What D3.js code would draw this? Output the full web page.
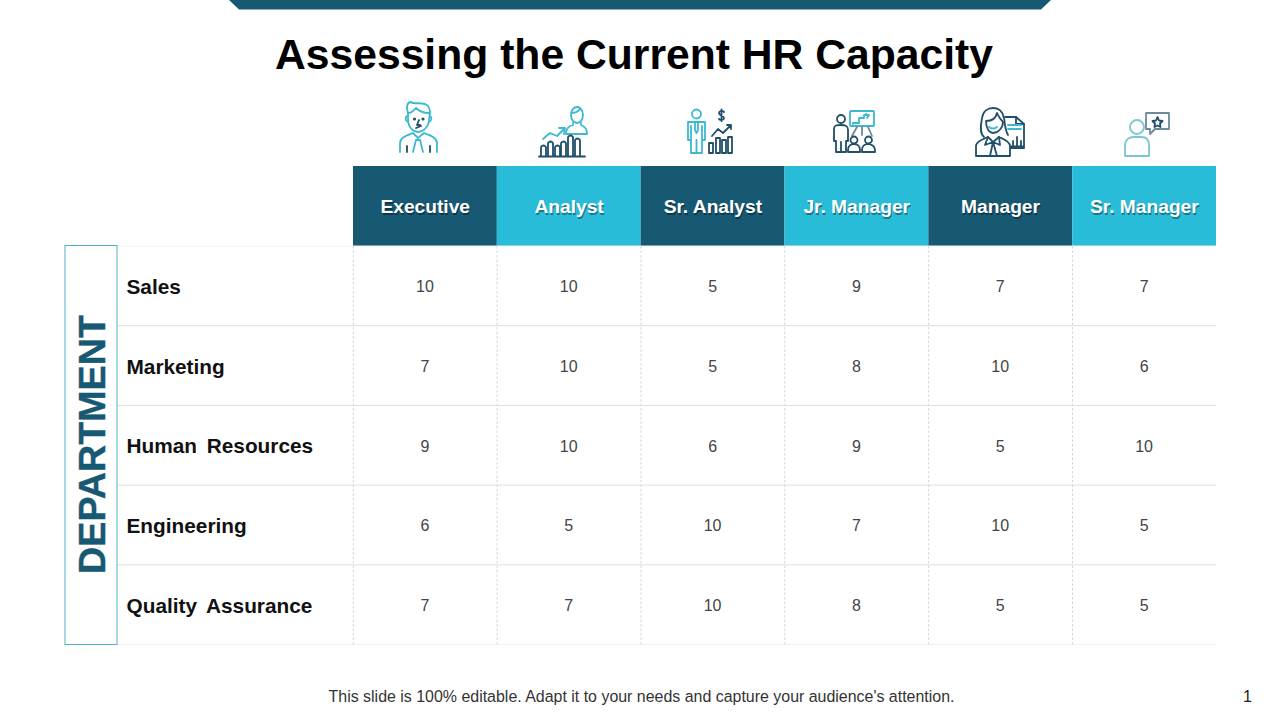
<!DOCTYPE html>
<html><head><meta charset="utf-8">
<script src="https://cdn.jsdelivr.net/npm/d3@7"></script>
<style>html,body{margin:0;padding:0;background:#fff;overflow:hidden}svg{display:block}text{font-family:"Liberation Sans",Arial,sans-serif}</style>
</head><body><svg id="c" width="1280" height="720"></svg>
<script>
const roles=["Executive","Analyst","Sr. Analyst","Jr. Manager","Manager","Sr. Manager"];
const departments=["Sales","Marketing","Human Resources","Engineering","Quality Assurance"];
const salesValues=[10,10,5,9,7,7];
const marketingValues=[7,10,5,8,10,6];
const hrValues=[9,10,6,9,5,10];
const engineeringValues=[6,5,10,7,10,5];
const qaValues=[7,7,10,8,5,5];
const rows=[salesValues,marketingValues,hrValues,engineeringValues,qaValues];
const DARK="#175873",CYAN="#29bcd9",GRID="#dcdfe1";
const svg=d3.select("#c");
const x=d3.scaleBand().domain(roles).range([353,1216]);
const y=d3.scaleBand().domain(departments).range([246,644.5]);

svg.append("path").attr("d","M229,0L1051,0L1041,9.5L239,9.5Z").attr("fill",DARK);
svg.append("text").attr("x",634).attr("y",69).attr("text-anchor","middle").attr("font-size",42.65).attr("font-weight",700).attr("fill","#000").text("Assessing the Current HR Capacity");

// header cells
svg.selectAll("rect.h").data(roles).join("rect").attr("class","h").attr("x",d=>x(d)).attr("y",166).attr("width",x.bandwidth()).attr("height",80).attr("fill",(d,i)=>i%2?CYAN:DARK);
const hdr=(dx,dy,fill,op)=>svg.append("g").selectAll("text").data(roles).join("text").attr("x",d=>x(d)+x.bandwidth()/2+dx).attr("y",213+dy).attr("text-anchor","middle").attr("font-size",19.2).attr("font-weight",700).attr("fill",fill).attr("fill-opacity",op).text(d=>d);
hdr(1.3,1.5,"#000",.38);hdr(.3,0,"#fff",1);

// grid
const rowEdges=[...departments.map(d=>y(d)),644.5];
svg.append("g").selectAll("line").data(rowEdges).join("line").attr("x1",117).attr("x2",1216).attr("y1",d=>d).attr("y2",d=>d).attr("stroke",(d,i)=>i===0||i===5?"#eef0f1":GRID).attr("stroke-width",1);
const colEdges=[...roles.map(d=>x(d)),1216];
svg.append("g").selectAll("line").data(colEdges.slice(0,6)).join("line").attr("x1",d=>d+.3).attr("x2",d=>d+.3).attr("y1",246).attr("y2",644.5).attr("stroke","#d3d6d8").attr("stroke-width",1).attr("stroke-dasharray","2.5 2");

// department box
svg.append("rect").attr("x",65).attr("y",245.5).attr("width",52).attr("height",399).attr("fill","#fff").attr("stroke","#4cb3c6").attr("stroke-width",1);
svg.append("text").attr("transform","translate(105,444.5) rotate(-90)").attr("text-anchor","middle").attr("font-size",37.7).attr("font-weight",700).attr("fill",DARK).attr("stroke",DARK).attr("stroke-width",.4).text("DEPARTMENT");

// row labels
svg.append("g").selectAll("text").data(departments).join("text").attr("x",126.5).attr("y",d=>y(d)+y.bandwidth()/2+8).attr("font-size",20.8).attr("word-spacing",4).attr("font-weight",700).attr("fill","#111").text(d=>d);

// values
rows.forEach((r,i)=>{
 svg.append("g").selectAll("text").data(r).join("text").attr("x",(d,j)=>x(roles[j])+x.bandwidth()/2).attr("y",y(departments[i])+y.bandwidth()/2+6.3).attr("text-anchor","middle").attr("font-size",16).attr("fill","#444").text(d=>d);
});

// footer
svg.append("text").attr("x",641.5).attr("y",702).attr("text-anchor","middle").attr("font-size",15.95).attr("fill","#333").text("This slide is 100% editable. Adapt it to your needs and capture your audience's attention.");
svg.append("text").attr("x",1247.5).attr("y",702).attr("text-anchor","middle").attr("font-size",16).attr("fill","#222").text("1");

// icons (decorative line art)
const ic=svg.append("g").attr("fill","none").attr("stroke-width",1.8).attr("stroke-linejoin","round").attr("stroke-linecap","round");
const p=(d,c)=>ic.append("path").attr("d",d).attr("stroke",c);
const T="#3cb9d0",N="#1f4f69",S="#7cc6d4",G="#6d8a99";
// executive
p("M408,113C406,107 407,102 411,102C414,105 424,101 428,106C431,110 430,114 429,119C429,127 423,132 418,132C413,132 408,127 408,119Z",T);
p("M408,113C412,113 414,110 416,108C420,112 425,113 429,113M407,116C405,117 405,121 408,122M430,116C432,117 432,121 429,122",T);
p("M400,152V143C400,137 408,135 413,133L418,138L424,133C429,135 437,137 437,143V152",T);
p("M416,140L413,152M420,140L423,152M416,140H420",T);
p("M407,146V152M430,146V152",N);
p("M419,120L417,125H420M416,128L421,126",N);
ic.append("g").selectAll("circle").data([414.5,423]).join("circle").attr("cx",d=>d).attr("cy",119).attr("r",.7).attr("fill",N).attr("stroke",N);
// analyst
p("M571,115C571,110 574,107 577,107C580,107 583,110 583,115C583,120 580,123 577,123C574,123 571,120 571,115ZM571,113C575,113 578,112 580,109",T);
p("M573,123V125C569,126 566,128 566,134H587C587,128 584,126 581,125V123",T);
p("M543,139L550,133L557,136L564,129M559,128L565,128L564,134",T);
p("M539,156.5H585",N);
[[541,145],[548,141],[555,145],[561,141],[568,135],[575,138]].forEach(b=>p(`M${b[0]},156V${b[1]+2}Q${b[0]+2.5},${b[1]-1} ${b[0]+5},${b[1]+2}V156`,N));
// sr analyst
p("M692,114a4.5,4.5 0 1,0 9,0a4.5,4.5 0 1,0 -9,0",T);
p("M688,122H705V140H702V153H691V140H688Z",T);
p("M691,126V139M702,126V139M696.5,140V153",T);
p("M695,122H698V130L696.5,133L695,130Z",T);
p("M724,112C722,110 719,111 719,113C719,116 724,115 724,118C724,120 721,121 719,119M721.5,109.5V121",N);
p("M712,136L718,129L723,133L731,125M727,125H731V129",N);
[[709,143],[716,138],[722,140],[728,137]].forEach(b=>p(`M${b[0]},153V${b[1]}H${b[0]+4}V153Z`,N));
// jr manager
p("M837,119a4,4 0 1,0 8,0a4,4 0 1,0 -8,0",N);
p("M834,129C834,125 837,125 841,125C846,125 848,126 848,130V141H846V152H836V141H834ZM841,142V152",N);
ic.append("rect").attr("x",850).attr("y",111).attr("width",24).attr("height",15).attr("rx",1).attr("stroke",T);
p("M853,124V123H859V118H864V115H869M866,114L869,115L867,118",T);
p("M857,127L852,136M862,127V135M868,127L872,136",G);
p("M848,150C848,146 851,144 854,144C857,144 860,146 860,150V152H848ZM850.5,140a3.5,3.5 0 1,0 7,0a3.5,3.5 0 1,0 -7,0",N);
p("M862,150C862,146 865,144 868,144C871,144 875,146 875,150V152H862ZM865,140a3.5,3.5 0 1,0 7,0a3.5,3.5 0 1,0 -7,0",N);
// manager
p("M984,137C979,133 981,124 982,118C983,111 988,108 993,108C999,108 1003,112 1004,118C1005,124 1005,130 1008,135",N);
p("M986,121C992,121 996,118 997,113C999,118 1001,120 1003,122C1003,128 998,133 993,133C989,133 986,128 986,121Z",N);
p("M989,127C991,129 995,129 997,127",T);
p("M976,156V146C976,141 984,139 988,137L993,142L999,137C1003,139 1010,141 1010,146V156Z",N);
p("M988,137L985,145L993,142L1000,145L999,137M993,142L990,156M993,142L997,156",N);
p("M1005,117H1016L1024,124V148H1011",N);
p("M1016,117V124H1024",N);
p("M1008,125H1021M1008,129H1021",T);
p("M1013,146V141M1017,146V137M1021,146V141M1011,146.5H1023",N);
// sr manager
p("M1130,127a7,7 0 1,0 14,0a7,7 0 1,0 -14,0",S);
p("M1125,156V145C1125,140 1129,137 1134,137H1141C1146,137 1149,140 1149,145V156Z",S);
p("M1146,113H1169V129H1155L1150,134V129H1146Z",G);
p("M1157.5,117L1159,120.5L1162.5,121L1160,123.5L1160.5,127L1157.5,125.5L1154.5,127L1155,123.5L1152.5,121L1156,120.5Z",N);
</script></body></html>
